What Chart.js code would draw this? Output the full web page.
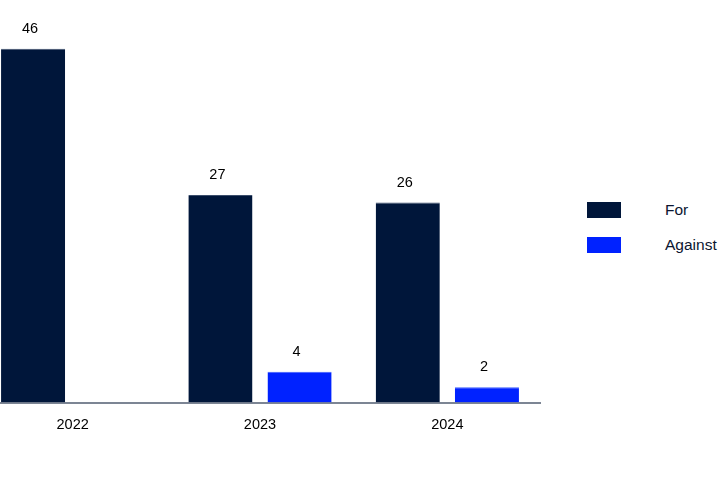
<!DOCTYPE html>
<html>
<head>
<meta charset="utf-8">
<script src="https://cdn.jsdelivr.net/npm/chart.js@4"></script>
<style>
  body { margin: 0; background: #fff; overflow: hidden; }
  #wrap { position: absolute; left: -21px; top: 0; width: 562px; height: 488px; }
  #legend { position: absolute; left: 587px; top: 202px; font-family: "Liberation Sans", Arial, sans-serif; font-size: 15.5px; color: #0b1530; }
  .item { display: flex; align-items: center; height: 16px; margin-bottom: 19px; }
  .box { width: 34px; height: 16px; margin-right: 44px; box-sizing: border-box; }
</style>
</head>
<body>
<div id="wrap"><canvas id="myChart"></canvas></div>
<div id="legend"></div>
<script>
const years = ['2022', '2023', '2024'];
const forVotes = [46, 27, 26];
const againstVotes = [0, 4, 2];

const valueLabels = {
  id: 'valueLabels',
  afterDatasetsDraw(chart) {
    const c = chart.ctx;
    c.save();
    c.font = '14.5px "Liberation Sans", Arial, sans-serif';
    c.fillStyle = '#000';
    c.textAlign = 'center';
    c.textBaseline = 'middle';
    chart.data.datasets.forEach((ds, i) => {
      chart.getDatasetMeta(i).data.forEach((bar, j) => {
        if (!ds.data[j]) return;
        c.fillText(ds.data[j], bar.x - 3, bar.y - 20);
      });
    });
    c.restore();
  }
};

const ctx = document.getElementById('myChart');
const chart = new Chart(ctx, {
  type: 'bar',
  data: {
    labels: years,
    datasets: [{
      label: 'For',
      data: forVotes,
      backgroundColor: '#00163a',
      borderColor: '#3b4d6b',
      borderWidth: { top: 1, left: 0, right: 0, bottom: 0 }
    }, {
      label: 'Against',
      data: againstVotes,
      backgroundColor: '#0022ff',
      borderColor: '#3a5cff',
      borderWidth: { top: 1, left: 0, right: 0, bottom: 0 }
    }]
  },
  options: {
    responsive: true,
    maintainAspectRatio: false,
    animation: false,
    categoryPercentage: 0.845,
    barPercentage: 0.81,
    layout: { padding: { top: 18, bottom: 40, left: 0, right: 0 } },
    plugins: {
      legend: { display: false },
      tooltip: { enabled: false }
    },
    scales: {
      x: {
        grid: { display: false, drawTicks: false },
        border: { display: true, color: '#7c8594', width: 2 },
        ticks: {
          padding: 14,
          color: '#000',
          font: { family: '"Liberation Sans", Arial, sans-serif', size: 14.5 }
        }
      },
      y: {
        display: false,
        min: 0,
        max: 50
      }
    }
  },
  plugins: [valueLabels]
});

const legend = document.getElementById('legend');
chart.data.datasets.forEach(ds => {
  const item = document.createElement('div');
  item.className = 'item';
  const box = document.createElement('span');
  box.className = 'box';
  box.style.background = ds.backgroundColor;
  const txt = document.createElement('span');
  txt.textContent = ds.label;
  item.appendChild(box);
  item.appendChild(txt);
  legend.appendChild(item);
});
</script>
</body>
</html>
